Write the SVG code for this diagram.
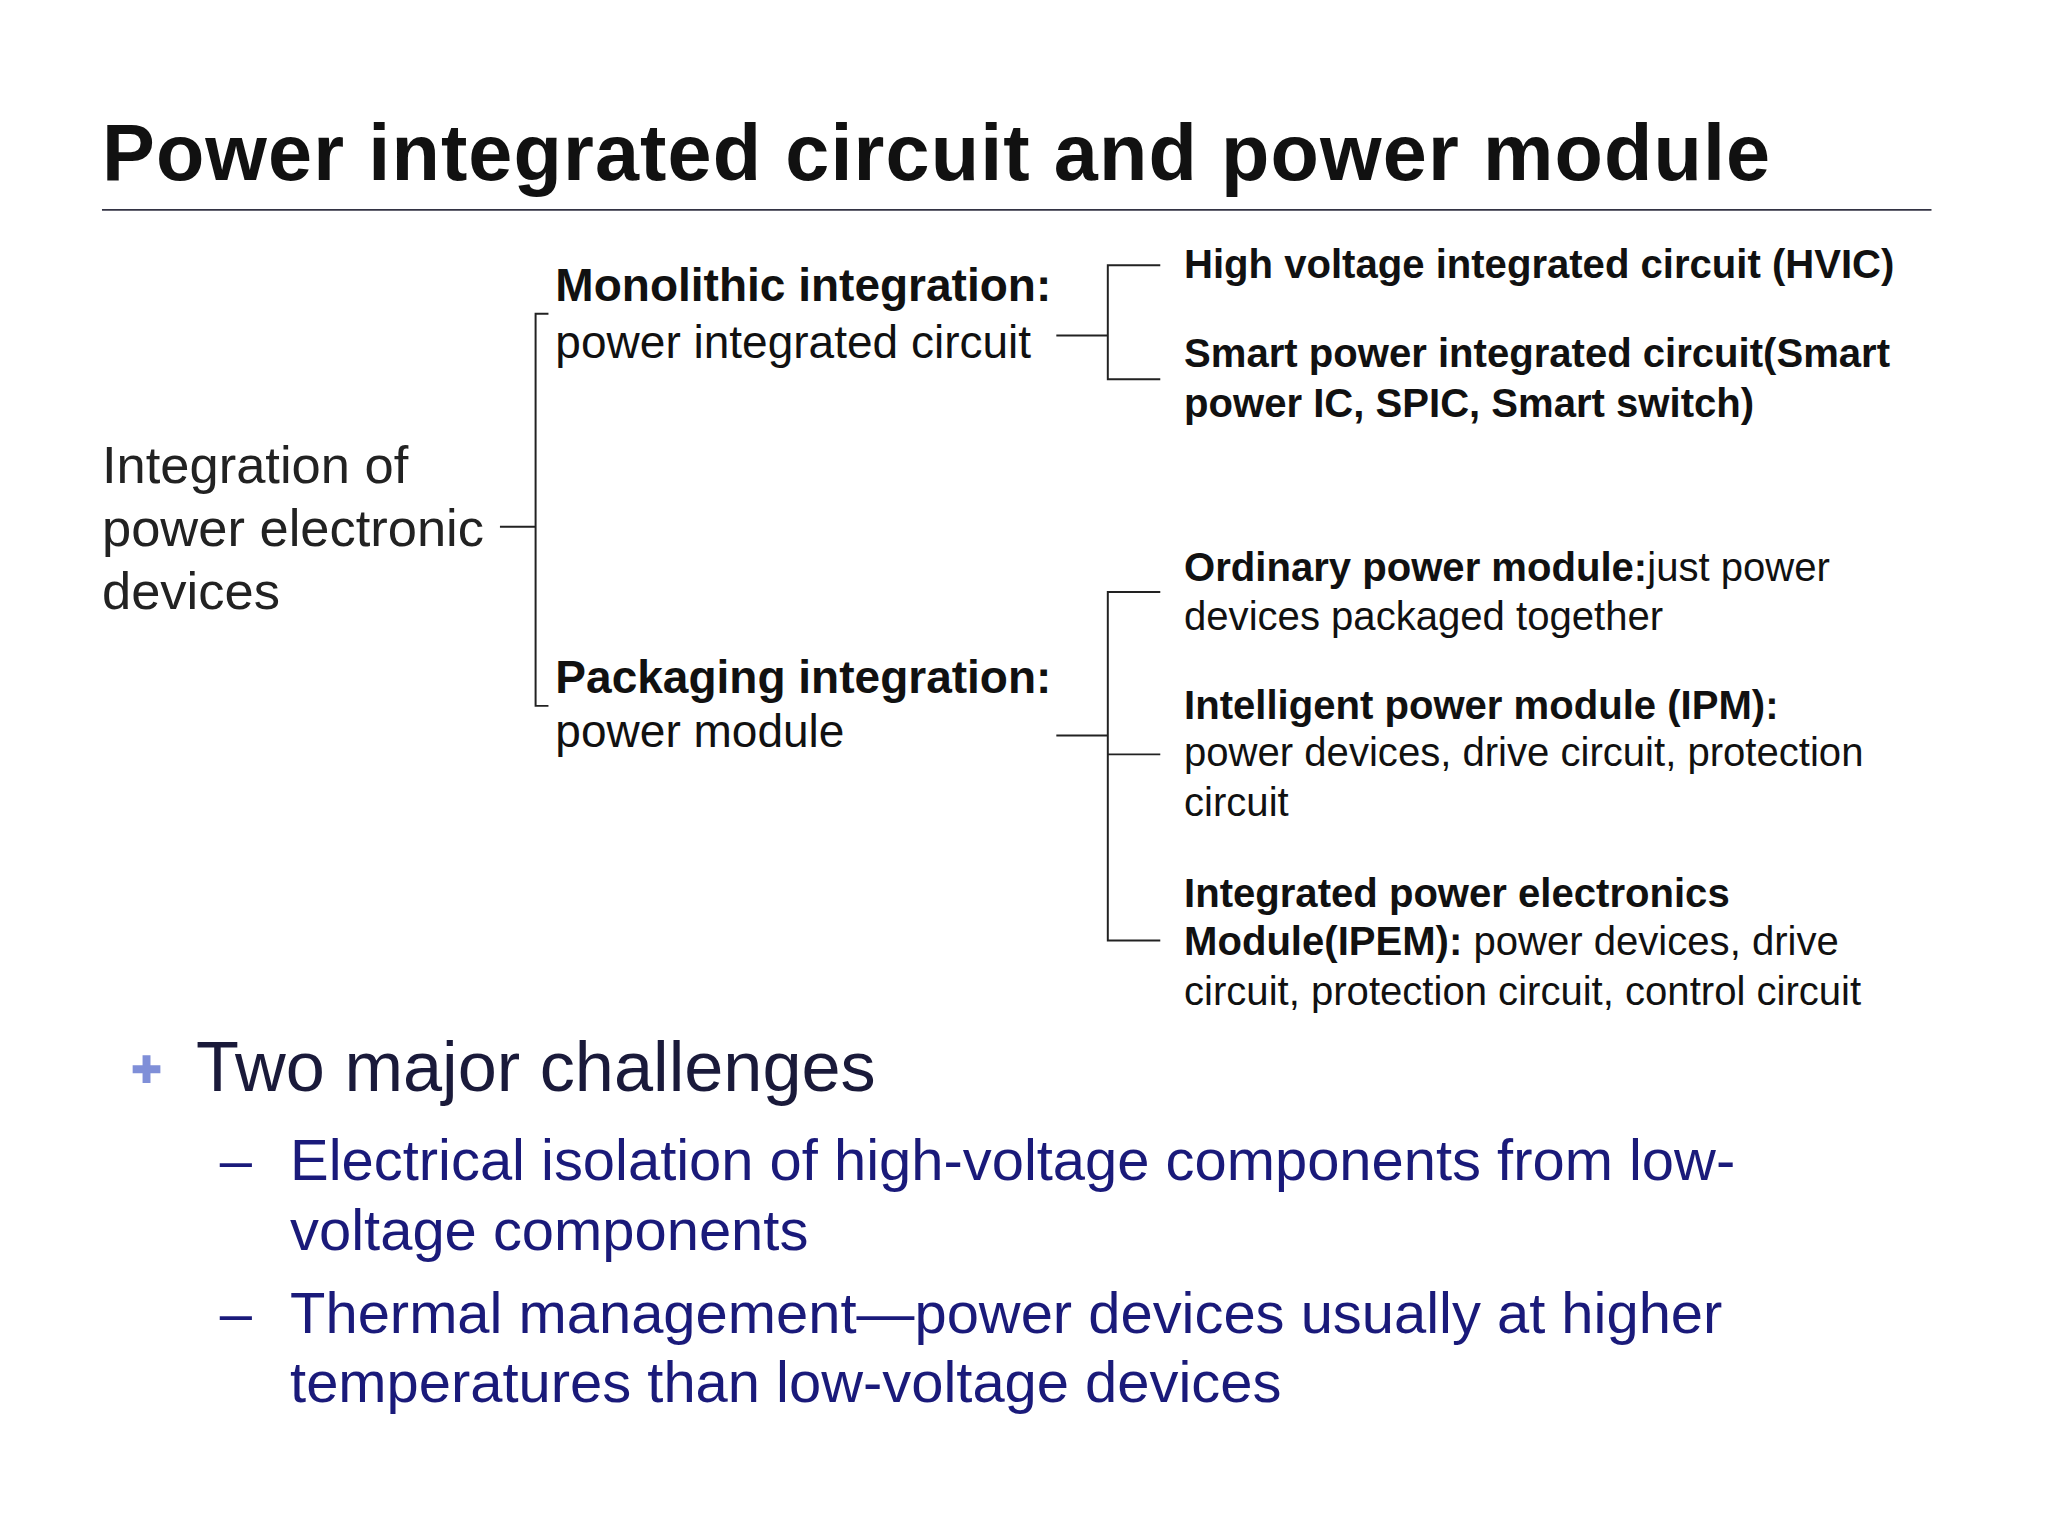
<svg xmlns="http://www.w3.org/2000/svg" width="2048" height="1536" viewBox="0 0 2048 1536">
<style>
text{font-family:"Liberation Sans",Arial,sans-serif;fill:#111}
.t{font-size:80px;font-weight:bold}
.l{font-size:53px;fill:#222}
.m{font-size:46.5px}
.s{font-size:40.5px}
.b{font-weight:bold}
.c{fill:#1a1a7a;font-size:58.5px}
.conn{stroke:#222;stroke-width:2;fill:none}
</style>
<rect width="2048" height="1536" fill="#fff"/>
<g transform="scale(0.99)">
<text class="t" x="103" y="182" textLength="1685">Power integrated circuit and power module</text>
<line x1="103" y1="212" x2="1951" y2="212" stroke="#334" stroke-width="2"/>
<g id="connectors" class="conn">
<path d="M505 532H541M554 317H541V713H554"/>
<path d="M1067 339H1119M1172 268H1119V383H1172"/>
<path d="M1067 743H1119M1172 598H1119V950H1172M1119 762H1172"/>
</g>
<g id="root"><text class="l" x="103" y="488">Integration of</text><text class="l" x="103" y="552">power electronic</text><text class="l" x="103" y="615">devices</text></g>
<g id="mono"><text class="m b" x="561" y="304">Monolithic integration:</text><text class="m" x="561" y="362">power integrated circuit</text></g>
<g id="pack"><text class="m b" x="561" y="700">Packaging integration:</text><text class="m" x="561" y="755">power module</text></g>
<g id="hvic"><text class="s b" x="1196" y="281">High voltage integrated circuit (HVIC)</text></g>
<g id="spic"><text class="s b" x="1196" y="371">Smart power integrated circuit(Smart</text><text class="s b" x="1196" y="421">power IC, SPIC, Smart switch)</text></g>
<g id="ord"><text class="s" x="1196" y="587"><tspan class="b">Ordinary power module:</tspan>just power</text><text class="s" x="1196" y="636">devices packaged together</text></g>
<g id="ipm"><text class="s b" x="1196" y="726">Intelligent power module (IPM):</text><text class="s" x="1196" y="774">power devices, drive circuit, protection</text><text class="s" x="1196" y="824">circuit</text></g>
<g id="ipem"><text class="s b" x="1196" y="916">Integrated power electronics</text><text class="s" x="1196" y="965"><tspan class="b">Module(IPEM):</tspan> power devices, drive</text><text class="s" x="1196" y="1015">circuit, protection circuit, control circuit</text></g>
<g id="bullets">
<path d="M148 1066V1094M134 1080H162" stroke="#7f8fd8" stroke-width="8"/>
<text class="c" x="198" y="1102" style="font-size:71px;fill:#1a1a3a">Two major challenges</text>
<text class="c" x="222" y="1192">–</text><text class="c" x="293" y="1192">Electrical isolation of high-voltage components from low-</text>
<text class="c" x="293" y="1263">voltage components</text>
<text class="c" x="222" y="1346">–</text><text class="c" x="293" y="1346">Thermal management—power devices usually at higher</text>
<text class="c" x="293" y="1416">temperatures than low-voltage devices</text>
</g>
</g>
</svg>
